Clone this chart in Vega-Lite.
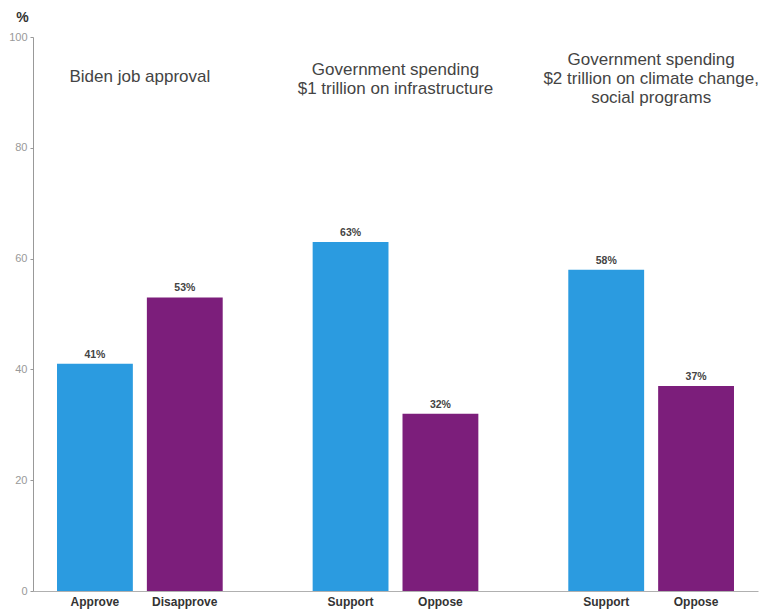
{
  "$schema": "https://vega.github.io/schema/vega-lite/v6.json",
  "autosize": "none",
  "width": 725,
  "height": 554,
  "padding": {"left": 33, "top": 37, "right": 15, "bottom": 21},
  "background": "white",
  "config": {"view": {"stroke": null}, "font": "Liberation Sans"},
  "datasets": {
    "bars": [
      {"group": "Biden job approval", "answer": "Approve", "pos": 1, "pct": 41, "label": "41%"},
      {"group": "Biden job approval", "answer": "Disapprove", "pos": 2, "pct": 53, "label": "53%"},
      {"group": "Infrastructure", "answer": "Support", "pos": 1, "pct": 63, "label": "63%"},
      {"group": "Infrastructure", "answer": "Oppose", "pos": 2, "pct": 32, "label": "32%"},
      {"group": "Climate", "answer": "Support", "pos": 1, "pct": 58, "label": "58%"},
      {"group": "Climate", "answer": "Oppose", "pos": 2, "pct": 37, "label": "37%"}
    ],
    "titles": [
      {"group": "Biden job approval", "title": ["Biden job approval"]},
      {"group": "Infrastructure", "title": ["Government spending", "$1 trillion on infrastructure"]},
      {"group": "Climate", "title": ["Government spending", "$2 trillion on climate change,", "social programs"]}
    ]
  },
  "layer": [
    {
      "data": {"name": "bars"},
      "mark": {"type": "bar"},
      "encoding": {
        "x": {
          "field": "group", "type": "nominal",
          "sort": ["Biden job approval", "Infrastructure", "Climate"],
          "scale": {"paddingInner": 0.297, "paddingOuter": 0.0665},
          "axis": {"labels": false, "ticks": false, "title": null, "domainColor": "#b0b0b0", "domainWidth": 1}
        },
        "xOffset": {
          "field": "pos", "type": "nominal",
          "scale": {"paddingInner": 0.156, "paddingOuter": 0.078}
        },
        "y": {
          "field": "pct", "type": "quantitative",
          "scale": {"domain": [0, 100], "nice": false},
          "axis": {
            "values": [0, 20, 40, 60, 80, 100],
            "grid": false,
            "domainColor": "#999999",
            "tickColor": "#999999",
            "tickSize": 3,
            "labelColor": "#999999",
            "labelFontSize": 11,
            "labelPadding": 3,
            "title": "%",
            "titleAngle": 0,
            "titleAlign": "center",
            "titleBaseline": "bottom",
            "titleX": -11,
            "titleY": -13,
            "titleFontSize": 14,
            "titleFontWeight": "bold",
            "titleColor": "#333333"
          }
        },
        "color": {
          "field": "pos", "type": "nominal",
          "scale": {"domain": [1, 2], "range": ["#2b9be0", "#7c1e7b"]},
          "legend": null
        }
      }
    },
    {
      "data": {"name": "bars"},
      "mark": {"type": "text", "baseline": "bottom", "dy": -4, "fontSize": 10.5, "fontWeight": "bold", "color": "#444444"},
      "encoding": {
        "x": {"field": "group", "type": "nominal", "sort": ["Biden job approval", "Infrastructure", "Climate"]},
        "xOffset": {"field": "pos", "type": "nominal"},
        "y": {"field": "pct", "type": "quantitative"},
        "text": {"field": "label", "type": "nominal"}
      }
    },
    {
      "data": {"name": "bars"},
      "mark": {"type": "text", "baseline": "top", "dy": 6, "fontSize": 12, "fontWeight": "bold", "color": "#333333", "clip": false},
      "encoding": {
        "x": {"field": "group", "type": "nominal", "sort": ["Biden job approval", "Infrastructure", "Climate"]},
        "xOffset": {"field": "pos", "type": "nominal"},
        "y": {"datum": 0},
        "text": {"field": "answer", "type": "nominal"}
      }
    },
    {
      "data": {"name": "titles"},
      "transform": [{"filter": "datum.group === 'Biden job approval'"}],
      "mark": {"type": "text", "baseline": "middle", "fontSize": 17, "color": "#444444", "lineHeight": 19},
      "encoding": {
        "x": {"field": "group", "type": "nominal", "sort": ["Biden job approval", "Infrastructure", "Climate"]},
        "y": {"datum": 92.8},
        "text": {"field": "title"}
      }
    },
    {
      "data": {"name": "titles"},
      "transform": [{"filter": "datum.group === 'Infrastructure'"}],
      "mark": {"type": "text", "baseline": "middle", "fontSize": 17, "color": "#444444", "lineHeight": 19},
      "encoding": {
        "x": {"field": "group", "type": "nominal", "sort": ["Biden job approval", "Infrastructure", "Climate"]},
        "y": {"datum": 94.0},
        "text": {"field": "title"}
      }
    },
    {
      "data": {"name": "titles"},
      "transform": [{"filter": "datum.group === 'Climate'"}],
      "mark": {"type": "text", "baseline": "middle", "fontSize": 17, "color": "#444444", "lineHeight": 19},
      "encoding": {
        "x": {"field": "group", "type": "nominal", "sort": ["Biden job approval", "Infrastructure", "Climate"]},
        "y": {"datum": 95.85},
        "text": {"field": "title"}
      }
    }
  ]
}
